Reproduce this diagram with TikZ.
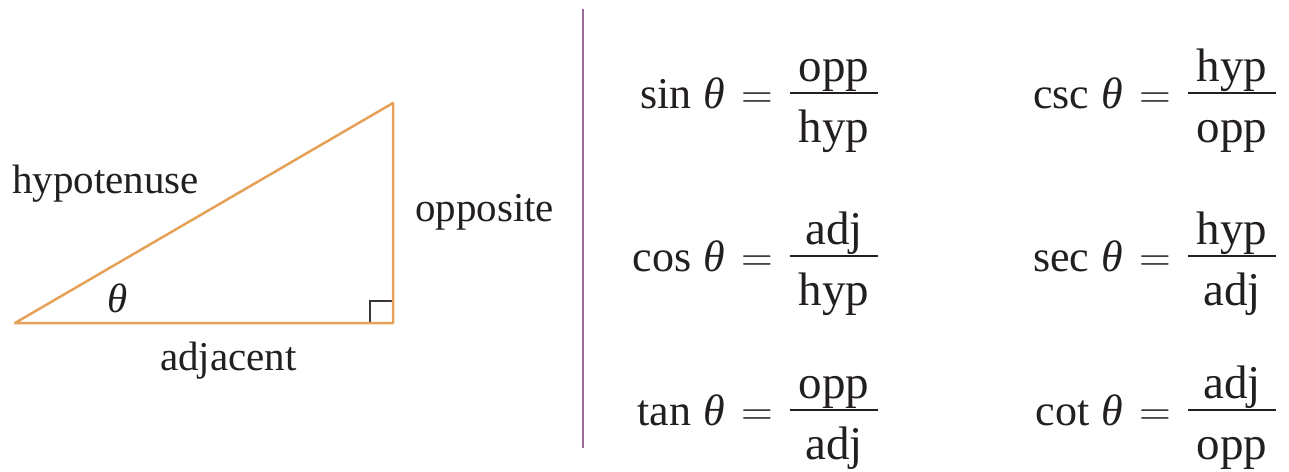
\RequirePackage{fix-cm}
\documentclass[tikz,border=0pt]{standalone}
\usepackage{fontspec}
\usepackage{graphicx}
\setmainfont{Liberation Serif}
\definecolor{tricol}{HTML}{E6A158}
\definecolor{sepcol}{HTML}{9C6B9C}
\definecolor{txtcol}{HTML}{231F20}
\newcommand\trigrow[6]{%
  \node[fml, anchor=base east] (#1-l) at (#2-17,#3+15) {#4\hspace{0.28em}{\itshape θ}\hspace{0.36em}$=$};
  \node[frc, anchor=base] (#1-n) at (#2+44,#3-12) {#5};
  \node[frc, anchor=base] (#1-d) at (#2+44,#3+49) {#6};
  \draw[fracbar] (#2,#3) -- (#2+88,#3);
}
\begin{document}
\begin{tikzpicture}[x=1pt,y=-1pt,
  lbl/.style={font=\fontsize{41}{48}\selectfont, inner sep=0pt, text=txtcol},
  fml/.style={font=\fontsize{44}{52}\selectfont, inner sep=0pt, text=txtcol},
  frc/.style={font=\fontsize{47}{54}\selectfont, inner sep=0pt, text=txtcol},
  fracbar/.style={draw=txtcol, line width=1.9pt},
  triside/.style={draw=tricol, line width=2.5pt, line join=round},
  rightmark/.style={draw=txtcol!90, line width=1.7pt}]
\useasboundingbox (0,0) rectangle (1289,471);
% triangle
\coordinate (A) at (15,323);
\coordinate (B) at (393,323);
\coordinate (C) at (393,103);
\coordinate (R1) at (370,323);
\coordinate (R2) at (370,301);
\coordinate (R3) at (393,301);
\draw[rightmark] (R1) -- (R2) -- (R3);
\draw[triside] (A) -- (B) -- (C) -- cycle;
\node[lbl, anchor=base west] (hyplbl) at (12,193) {hypotenuse};
\node[lbl, anchor=base west] (opplbl) at (415,221) {opposite};
\node[lbl, anchor=base west] (adjlbl) at (160,370) {adjacent};
\node[lbl] (thlbl) at (118,298) {\itshape θ};
% separator
\coordinate (S1) at (583,9);
\coordinate (S2) at (583,448);
\draw[sepcol, line width=2pt] (S1) -- (S2);
% formulas
\trigrow{sin}{790}{93}{sin}{opp}{hyp}
\trigrow{csc}{1188}{93}{csc}{hyp}{opp}
\trigrow{cos}{790}{256}{cos}{adj}{hyp}
\trigrow{sec}{1188}{256}{sec}{hyp}{adj}
\trigrow{tan}{790}{410}{tan}{opp}{adj}
\trigrow{cot}{1188}{410}{cot}{adj}{opp}
\end{tikzpicture}
\end{document}
